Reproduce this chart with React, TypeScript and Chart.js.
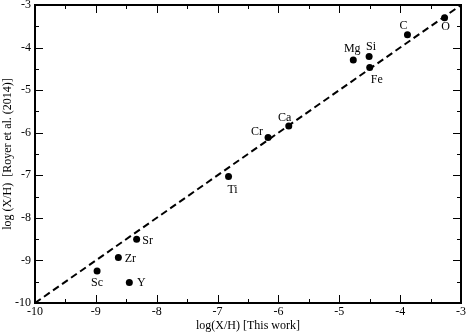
import React, { useEffect, useRef } from "react";
import { Chart, registerables } from "chart.js";

Chart.register(...registerables);

const elements = ["O", "C", "Mg", "Si", "Fe", "Ca", "Cr", "Ti", "Sr", "Zr", "Sc", "Y"];
const thisWork = [-3.27, -3.88, -4.77, -4.51, -4.5, -5.83, -6.17, -6.82, -8.33, -8.63, -8.98, -8.45];
const royer = [-3.3, -3.7, -4.29, -4.21, -4.47, -5.84, -6.11, -7.03, -8.5, -8.93, -9.25, -9.52];
const labelDx = [1, -4, -1, 2, 7, -4, -11, 4, 11, 12, 0, 12];
const labelDy = [9, -9, -11, -10, 12, -8, -6, 13, 2, 1, 12, 0];
const axisMin = -10;
const axisMax = -3;
const majorTicks = [-10, -9, -8, -7, -6, -5, -4, -3];
const minorTicks = [-9.5, -8.5, -7.5, -6.5, -5.5, -4.5, -3.5];
const xTitle = "log(X/H) [This work]";
const yTitle = "log (X/H)  [Royer et al. (2014)]";

const FONT = '"Liberation Serif", "Times New Roman", serif';

const framePlugin = {
  id: "frame",
  afterDatasetsDraw(chart: any) {
    const { ctx, chartArea: a, scales } = chart;
    const xs = scales.x;
    const ys = scales.y;
    ctx.save();
    // point labels
    ctx.fillStyle = "#000";
    ctx.font = "12px " + FONT;
    ctx.textAlign = "center";
    ctx.textBaseline = "middle";
    elements.forEach((el, i) => {
      const px = xs.getPixelForValue(thisWork[i]);
      const py = ys.getPixelForValue(royer[i]);
      ctx.fillText(el, px + labelDx[i], py + labelDy[i]);
    });
    // frame
    ctx.strokeStyle = "#000";
    ctx.lineWidth = 2;
    ctx.strokeRect(a.left, a.top, a.right - a.left, a.bottom - a.top);
    ctx.lineWidth = 1;
    const tick = (v: number, len: number) => {
      const x = Math.round(xs.getPixelForValue(v)) + 0.5;
      ctx.beginPath();
      ctx.moveTo(x, a.bottom);
      ctx.lineTo(x, a.bottom - len);
      ctx.moveTo(x, a.top);
      ctx.lineTo(x, a.top + len);
      const y = Math.round(ys.getPixelForValue(v)) + 0.5;
      ctx.moveTo(a.left, y);
      ctx.lineTo(a.left + len, y);
      ctx.moveTo(a.right, y);
      ctx.lineTo(a.right - len, y);
      ctx.stroke();
    };
    majorTicks.forEach((v) => tick(v, 8));
    minorTicks.forEach((v) => tick(v, 4));
    // tick labels
    ctx.font = "12px " + FONT;
    ctx.textAlign = "center";
    ctx.textBaseline = "top";
    majorTicks.forEach((v) => {
      ctx.fillText(String(v), xs.getPixelForValue(v), a.bottom + 3);
    });
    ctx.textAlign = "right";
    ctx.textBaseline = "middle";
    majorTicks.forEach((v) => {
      ctx.fillText(String(v), a.left - 4, ys.getPixelForValue(v));
    });
    // titles
    ctx.textAlign = "center";
    ctx.textBaseline = "middle";
    ctx.fillText(xTitle, (a.left + a.right) / 2, a.bottom + 23);
    ctx.translate(8, (a.top + a.bottom) / 2);
    ctx.rotate(-Math.PI / 2);
    ctx.fillText(yTitle, 0, 0);
    ctx.restore();
  },
};

export default function App() {
  const ref = useRef<HTMLCanvasElement>(null);
  useEffect(() => {
    const chart = new Chart(ref.current!, {
      type: "scatter",
      data: {
        datasets: [
          {
            type: "line",
            data: [
              { x: axisMin, y: axisMin },
              { x: axisMax, y: axisMax },
            ],
            borderColor: "#000",
            borderWidth: 2,
            borderDash: [7, 4],
            pointRadius: 0,
            fill: false,
          } as any,
          {
            data: thisWork.map((x, i) => ({ x, y: royer[i] })),
            backgroundColor: "#000",
            borderColor: "#000",
            pointRadius: 3.5,
            pointBorderWidth: 0,
          },
        ],
      },
      options: {
        animation: false,
        responsive: false,
        events: [],
        layout: { padding: { top: 5, right: 6, left: 0, bottom: 0 } },
        plugins: { legend: { display: false }, tooltip: { enabled: false } },
        scales: {
          x: {
            type: "linear",
            min: axisMin,
            max: axisMax,
            ticks: { display: false },
            grid: { display: false },
            border: { display: false },
            afterFit: (s: any) => {
              s.height = 30;
            },
          },
          y: {
            type: "linear",
            min: axisMin,
            max: axisMax,
            ticks: { display: false },
            grid: { display: false },
            border: { display: false },
            afterFit: (s: any) => {
              s.width = 35;
            },
          },
        },
      },
      plugins: [framePlugin],
    });
    return () => chart.destroy();
  }, []);
  return (
    <div style={{ position: "fixed", left: 0, top: 0, width: 467, height: 333, background: "#fff" }}>
      <canvas ref={ref} width={467} height={333} style={{ display: "block" }} />
    </div>
  );
}
